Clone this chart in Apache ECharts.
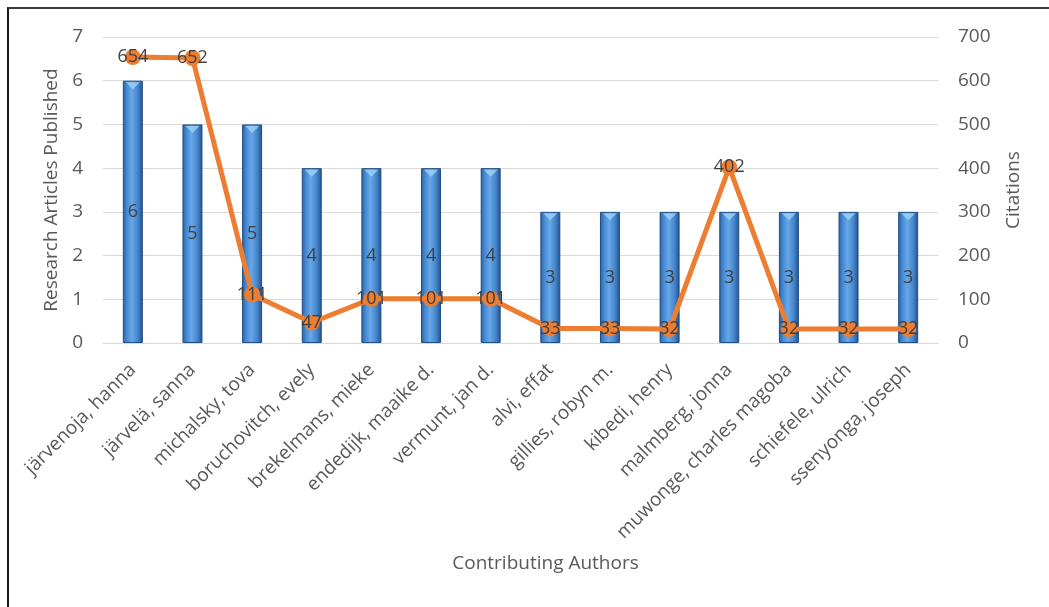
<!DOCTYPE html>
<html>
<head>
<meta charset="utf-8">
<script src="https://cdn.jsdelivr.net/npm/echarts@6/dist/echarts.min.js"></script>
<style>
  html, body { margin: 0; padding: 0; background: #fff; }
  #wrap { position: absolute; left: 0; top: 0; width: 1049px; height: 607px; }
  #frame { position: absolute; left: 7px; top: 7px; width: 1042px; height: 600px;
           border-top: 2px solid #3a3a3a; border-left: 2px solid #1a1a1a; box-sizing: border-box; }
  #chart { position: absolute; left: 0; top: 0; width: 1049px; height: 607px; }
</style>
</head>
<body>
<div id="wrap">
  <div id="frame"></div>
  <div id="chart"></div>
</div>
<script>
const authors = [
  'järvenoja, hanna', 'järvelä, sanna', 'michalsky, tova', 'boruchovitch, evely',
  'brekelmans, mieke', 'endedijk, maaike d.', 'vermunt, jan d.', 'alvi, effat',
  'gillies, robyn m.', 'kibedi, henry', 'malmberg, jonna', 'muwonge, charles magoba',
  'schiefele, ulrich', 'ssenyonga, joseph'
];
const articles = [6, 5, 5, 4, 4, 4, 4, 3, 3, 3, 3, 3, 3, 3];
const citations = [654, 652, 111, 47, 101, 101, 101, 33, 33, 32, 402, 32, 32, 32];
const leftTicks = { min: 0, max: 7, interval: 1 };
const rightTicks = { min: 0, max: 700, interval: 100 };

const FONT = '"Open Sans", "Liberation Sans", sans-serif';
const chart = echarts.init(document.getElementById('chart'), null, { renderer: 'canvas' });

const barGradient = new echarts.graphic.LinearGradient(0, 0, 1, 0, [
  { offset: 0, color: '#2a5f9f' },
  { offset: 0.2, color: '#4689d2' },
  { offset: 0.45, color: '#67a8e8' },
  { offset: 0.75, color: '#4585cc' },
  { offset: 1, color: '#22508a' }
]);

chart.setOption({
  animation: false,
  backgroundColor: 'transparent',
  textStyle: { fontFamily: FONT },
  grid: { left: 103, right: 111, top: 37, bottom: 264, containLabel: false },
  xAxis: {
    type: 'category',
    data: authors,
    name: 'Contributing Authors',
    nameLocation: 'middle',
    nameGap: 211,
    nameTextStyle: { color: '#595959', fontSize: 19, fontFamily: FONT, padding: [0, 0, 0, 50] },
    axisLine: { show: true, lineStyle: { color: '#d9d9d9', width: 1 } },
    axisTick: { show: false },
    axisLabel: { rotate: 45, color: '#595959', fontSize: 19, margin: 24, interval: 0, fontFamily: FONT },
    splitLine: { show: false }
  },
  yAxis: [
    {
      type: 'value',
      min: leftTicks.min, max: leftTicks.max, interval: leftTicks.interval,
      name: 'Research Articles Published',
      nameLocation: 'middle',
      nameGap: 42,
      nameRotate: 90,
      nameTextStyle: { color: '#595959', fontSize: 19, fontFamily: FONT },
      axisLine: { show: false },
      axisTick: { show: false },
      axisLabel: { color: '#595959', fontSize: 19, margin: 20, fontFamily: FONT },
      splitLine: { show: true, lineStyle: { color: '#d9d9d9', width: 1 } }
    },
    {
      type: 'value',
      position: 'right',
      min: rightTicks.min, max: rightTicks.max, interval: rightTicks.interval,
      name: 'Citations',
      nameLocation: 'middle',
      nameGap: 66,
      nameRotate: 90,
      nameTextStyle: { color: '#595959', fontSize: 19, fontFamily: FONT },
      axisLine: { show: false },
      axisTick: { show: false },
      axisLabel: { color: '#595959', fontSize: 19, margin: 20, fontFamily: FONT },
      splitLine: { show: false }
    }
  ],
  series: [
    {
      name: 'Research Articles Published',
      type: 'bar',
      yAxisIndex: 0,
      data: articles,
      barWidth: 20,
      itemStyle: { color: barGradient, borderColor: '#1f4e85', borderWidth: 1 },
      label: { show: true, position: 'inside', color: '#404040', fontSize: 18, fontFamily: FONT },
      z: 2
    },
    {
      name: 'bar caps',
      type: 'scatter',
      yAxisIndex: 0,
      data: articles,
      symbol: 'triangle',
      symbolRotate: 180,
      symbolSize: [14, 7],
      symbolOffset: [0, 5],
      itemStyle: { color: '#9fd3f7' },
      silent: true,
      z: 2
    },
    {
      name: 'Citations',
      type: 'line',
      yAxisIndex: 1,
      data: citations,
      symbol: 'circle',
      symbolSize: 16,
      itemStyle: { color: '#ed7d31' },
      lineStyle: { color: '#ed7d31', width: 5 },
      label: { show: true, position: 'inside', color: '#404040', fontSize: 18, fontFamily: FONT },
      z: 3
    }
  ]
});
</script>
</body>
</html>
